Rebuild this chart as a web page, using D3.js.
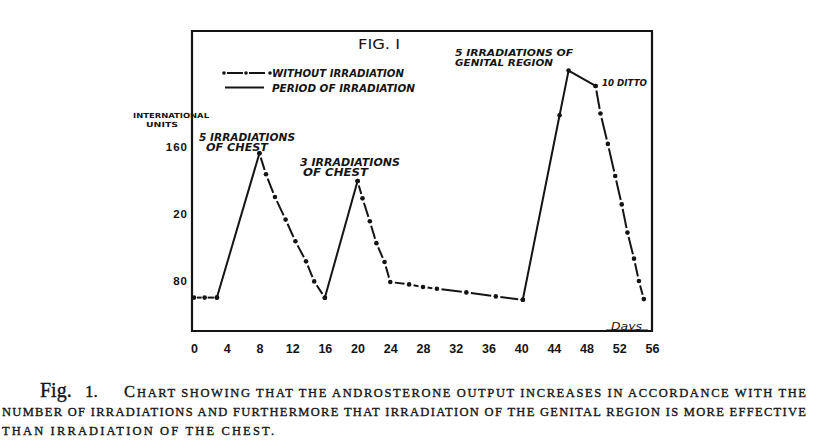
<!DOCTYPE html>
<html>
<head>
<meta charset="utf-8">
<script src="https://cdn.jsdelivr.net/npm/d3@7"></script>
<style>
  html, body { margin: 0; padding: 0; background: #fff; }
  svg { display: block; }
</style>
</head>
<body>
<svg id="chart" width="820" height="445"></svg>
<script>
// ---------------- DATA ----------------
// x ticks (days)
const dayTicks = [0, 4, 8, 12, 16, 20, 24, 28, 32, 36, 40, 44, 48, 52, 56];
// y ticks (international units) and their printed labels
const unitTicks = [160, 120, 80];
const unitTickLabels = ["160", "20", "80"];

// "Without irradiation" runs (dash-dot with points)
const restDaysA  = [0, 1.3, 2.8];
const restUnitsA = [70, 70, 70];
const restDaysB  = [8, 8.8, 9.9, 11.2, 12.4, 13.7, 14.7, 16];
const restUnitsB = [156.4, 143.8, 130.2, 116.7, 103.7, 91.7, 79.7, 69.9];
const restDaysC  = [20, 20.6, 21.5, 22.3, 23.3, 24, 26.3, 28, 29.7, 33.3, 36.9, 40.2];
const restUnitsC = [139.8, 129.4, 115.7, 102.6, 91.3, 79.3, 77.9, 76.3, 75.3, 73.1, 70.7, 68.7];
const restDaysD  = [49.1, 49.7, 50.6, 51.5, 52.3, 53, 53.8, 54.4, 55];
const restUnitsD = [196.7, 180.2, 162, 142.8, 125.8, 108.9, 93.3, 79.9, 69.1];

// "Period of irradiation" runs (solid)
const irrDaysE  = [2.8, 8];
const irrUnitsE = [70, 156.4];
const irrDaysF  = [16, 20];
const irrUnitsF = [69.9, 139.8];
const irrDaysG  = [40.2, 44.7, 45.8, 49.1];
const irrUnitsG = [68.7, 179.2, 205.9, 196.7];

// ---------------- DRAW ----------------
const svg = d3.select("#chart");
const ink = "#141414";

const x = d3.scaleLinear().domain([0, 56]).range([194, 652]);
const y = d3.scaleLinear().domain([50, 229.6]).range([331, 31]);

const zip = (a, b) => a.map((d, i) => [d, b[i]]);
const restRuns = [zip(restDaysA, restUnitsA), zip(restDaysB, restUnitsB),
                  zip(restDaysC, restUnitsC), zip(restDaysD, restUnitsD)];
const irrRuns  = [zip(irrDaysE, irrUnitsE), zip(irrDaysF, irrUnitsF), zip(irrDaysG, irrUnitsG)];

// frame
svg.append("path")
  .attr("d", `M${x(0)-2},${y(229.6)} L${x(56)},${y(229.6)} L${x(56)},${y(50)} L${x(0)-2},${y(50)} Z`)
  .attr("fill", "none").attr("stroke", ink).attr("stroke-width", 2.2);

// axes (labels only)
const xAxis = d3.axisBottom(x).tickValues(dayTicks).tickSize(0).tickPadding(13)
  .tickFormat(d3.format("d"));
const gx = svg.append("g").attr("transform", `translate(0,${y(50)})`).call(xAxis);
gx.select(".domain").remove();
gx.selectAll("text").attr("font-family", "Liberation Sans, Arial, sans-serif")
  .attr("font-weight", "bold").attr("font-size", 12.5).attr("fill", ink);

const yAxis = d3.axisLeft(y).tickValues(unitTicks).tickSize(0).tickPadding(4)
  .tickFormat((d, i) => unitTickLabels[i]);
const gy = svg.append("g").attr("transform", `translate(${x(0)-2},0)`).call(yAxis);
gy.select(".domain").remove();
gy.selectAll("text").attr("font-family", "Liberation Sans, Arial, sans-serif")
  .attr("font-weight", "bold").attr("font-size", 11.5).attr("letter-spacing", 1).attr("fill", ink);

// irradiation (solid) lines
const line = d3.line().x(d => x(d[0])).y(d => y(d[1]));
svg.append("g").selectAll("path").data(irrRuns).join("path")
  .attr("d", line).attr("fill", "none").attr("stroke", ink)
  .attr("stroke-width", 2).attr("stroke-linejoin", "round");

// without-irradiation dash-dot: each interval a dash with gaps at the points
const gap = 4.6;
const segs = [];
restRuns.forEach(run => {
  for (let i = 0; i < run.length - 1; i++) {
    const x1 = x(run[i][0]), y1 = y(run[i][1]), x2 = x(run[i+1][0]), y2 = y(run[i+1][1]);
    const len = Math.hypot(x2 - x1, y2 - y1);
    const ux = (x2 - x1) / len, uy = (y2 - y1) / len;
    const g = len > 2 * gap + 4 ? gap : 3;
    segs.push([x1 + ux * g, y1 + uy * g, x2 - ux * g, y2 - uy * g]);
  }
});
svg.append("g").selectAll("line").data(segs).join("line")
  .attr("x1", d => d[0]).attr("y1", d => d[1]).attr("x2", d => d[2]).attr("y2", d => d[3])
  .attr("stroke", ink).attr("stroke-width", 2).attr("stroke-linecap", "butt");

// points
const pts = restRuns.flat().concat(irrRuns.flat());
svg.append("g").selectAll("circle").data(pts).join("circle")
  .attr("cx", d => x(d[0])).attr("cy", d => y(d[1])).attr("r", 2.3).attr("fill", ink);

// ---------------- TEXT ----------------
function txt(str, px, py, opts = {}) {
  const t = svg.append("text").attr("x", px).attr("y", py).text(str)
    .attr("font-family", opts.family || "DejaVu Sans, Liberation Sans, sans-serif")
    .attr("font-size", opts.size || 10)
    .attr("font-weight", opts.weight || "bold")
    .attr("font-style", opts.style || "italic")
    .attr("fill", ink);
  if (opts.len) t.attr("textLength", opts.len).attr("lengthAdjust", "spacingAndGlyphs");
  if (opts.anchor) t.attr("text-anchor", opts.anchor);
  return t;
}

// title
txt("FIG. I", 358, 49, { size: 13.5, weight: "normal", style: "normal", len: 42 });

// legend
svg.append("line").attr("x1", 224).attr("y1", 73).attr("x2", 270).attr("y2", 73)
  .attr("stroke", ink).attr("stroke-width", 1.8).attr("stroke-dasharray", "0,3,16,3,0,3,16,3");
[224, 246, 270].forEach(cx => svg.append("circle").attr("cx", cx).attr("cy", 73).attr("r", 1.8).attr("fill", ink));
txt("WITHOUT IRRADIATION", 272, 77, { size: 10, len: 132 });
svg.append("line").attr("x1", 225).attr("y1", 87.5).attr("x2", 264).attr("y2", 87.5)
  .attr("stroke", ink).attr("stroke-width", 1.8);
txt("PERIOD OF IRRADIATION", 272, 91.5, { size: 10, len: 143 });

// y axis title
txt("INTERNATIONAL", 133, 118, { size: 7, style: "normal", len: 76 });
txt("UNITS", 146, 127, { size: 7, style: "normal", len: 32 });

// annotations
txt("5 IRRADIATIONS", 199, 141, { size: 10, len: 96 });
txt("OF CHEST", 206, 151, { size: 10, len: 62 });
txt("3 IRRADIATIONS", 300, 166, { size: 10, len: 100 });
txt("OF CHEST", 303, 175.5, { size: 10, len: 65 });
txt("5 IRRADIATIONS OF", 455, 55.5, { size: 9.5, len: 118 });
txt("GENITAL REGION", 455, 65.5, { size: 9.5, len: 98 });
txt("10 DITTO", 602, 85.5, { size: 9, len: 45 });

// Days label on the x axis
txt("Days", 611, 329.5, { size: 11, weight: "normal", len: 31 });
svg.append("line").attr("x1", 606).attr("y1", 330).attr("x2", 648).attr("y2", 330)
  .attr("stroke", ink).attr("stroke-width", 1.2);

// ---------------- CAPTION ----------------
const serif = "Liberation Serif, DejaVu Serif, Times New Roman, serif";
const capSize = 12.5;
const cap1 = svg.append("text").attr("y", 397).attr("font-family", serif).attr("fill", ink)
  .attr("stroke", ink).attr("stroke-width", 0.35);
cap1.append("tspan").attr("x", 40).attr("font-size", 20).text("Fig.");
cap1.append("tspan").attr("x", 85).attr("font-size", 17).text("1.");
cap1.append("tspan").attr("x", 124).attr("font-size", 16.5).text("C");
cap1.append("tspan").attr("x", 137).attr("font-size", capSize)
  .attr("textLength", 669).attr("lengthAdjust", "spacing")
  .text("HART SHOWING THAT THE ANDROSTERONE OUTPUT INCREASES IN ACCORDANCE WITH THE");

svg.append("text").attr("x", 2).attr("y", 415.5).attr("font-family", serif).attr("font-size", capSize)
  .attr("fill", ink).attr("stroke", ink).attr("stroke-width", 0.35)
  .attr("textLength", 804).attr("lengthAdjust", "spacing")
  .text("NUMBER OF IRRADIATIONS AND FURTHERMORE THAT IRRADIATION OF THE GENITAL REGION IS MORE EFFECTIVE");

svg.append("text").attr("x", 2).attr("y", 434.5).attr("font-family", serif).attr("font-size", capSize)
  .attr("fill", ink).attr("stroke", ink).attr("stroke-width", 0.35)
  .attr("textLength", 272).attr("lengthAdjust", "spacing")
  .text("THAN IRRADIATION OF THE CHEST.");
</script>
</body>
</html>
